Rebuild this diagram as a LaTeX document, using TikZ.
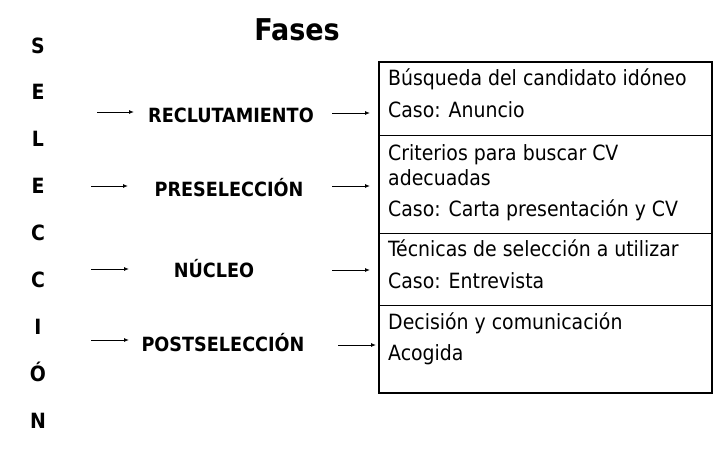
\documentclass[tikz,border=0pt]{standalone}
\usepackage{fontspec}
\setmainfont{DejaVu Sans Condensed}
\usetikzlibrary{arrows.meta}
\tikzset{
  txt/.style={anchor=base west, inner sep=0pt, font=\fontsize{21}{23}\selectfont},
  phase/.style={anchor=base, inner sep=0pt, font=\fontsize{19.6}{22}\selectfont\bfseries},
  letter/.style={anchor=base, inner sep=0pt, font=\fontsize{21}{23}\selectfont\bfseries},
  arr/.style={line width=0.9pt, -{Latex[length=5pt,width=4pt]}},
  outer/.style={line width=1.8pt},
  sep/.style={line width=0.9pt}
}
\begin{document}
\begin{tikzpicture}[x=1pt,y=-1pt]
\useasboundingbox (0,0) rectangle (720,450);
% title
\node[anchor=base, inner sep=0pt, font=\fontsize{30}{34}\selectfont\bfseries] (title) at (297,40) {Fases};
% vertical word
\foreach \l [count=\i] in {S,E,L,E,C,C,I,Ó,N}
  \node[letter] (v\i) at (38,{53+(\i-1)*46.9}) {\l};
% phases
\node[phase] (p1) at (231,122) {RECLUTAMIENTO};
\node[phase] (p2) at (229,196) {PRESELECCIÓN};
\node[phase] (p3) at (214,277) {NÚCLEO};
\node[phase] (p4) at (223,351) {POSTSELECCIÓN};
% box
\coordinate (bTL) at (379,62);
\coordinate (bBR) at (712,393);
\draw[sep] (379,135) -- (712,135);
\draw[sep] (379,233) -- (712,233);
\draw[sep] (379,305) -- (712,305);
\draw[outer] (bTL) rectangle (bBR);
% box texts
\node[txt] (t1a) at (388,85) {Búsqueda del candidato idóneo};
\node[txt] (t1b) at (388,117) {Caso: Anuncio};
\node[txt] (t2a) at (388,160) {Criterios para buscar CV};
\node[txt] (t2b) at (388,185) {adecuadas};
\node[txt] (t2c) at (388,216) {Caso: Carta presentación y CV};
\node[txt] (t3a) at (388,256) {Técnicas de selección a utilizar};
\node[txt] (t3b) at (388,288) {Caso: Entrevista};
\node[txt] (t4a) at (388,329) {Decisión y comunicación};
\node[txt] (t4b) at (388,360) {Acogida};
% arrow coordinates
\coordinate (l1s) at (97,112);  \coordinate (l1e) at (134,112);
\coordinate (l2s) at (91,186);  \coordinate (l2e) at (128,186);
\coordinate (l3s) at (91,269);  \coordinate (l3e) at (129,269);
\coordinate (l4s) at (91,340);  \coordinate (l4e) at (129,340);
\coordinate (r1s) at (332,113); \coordinate (r1e) at (370,113);
\coordinate (r2s) at (332,186); \coordinate (r2e) at (370,186);
\coordinate (r3s) at (332,270); \coordinate (r3e) at (370,270);
\coordinate (r4s) at (338,345); \coordinate (r4e) at (376,345);
\foreach \k in {1,2,3,4}{
  \draw[arr] (l\k s) -- (l\k e);
  \draw[arr] (r\k s) -- (r\k e);
}
\end{tikzpicture}
\end{document}
